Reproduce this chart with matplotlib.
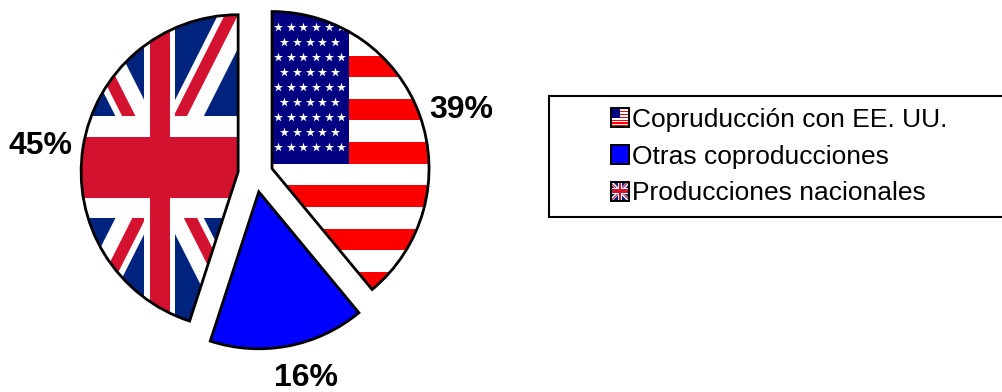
import matplotlib
matplotlib.use('Agg')
import matplotlib.pyplot as plt
from matplotlib.legend_handler import HandlerBase
from matplotlib.patches import Patch, Polygon, Rectangle
from matplotlib.transforms import Affine2D

etiquetas = ['Copruducción con EE. UU.', 'Otras coproducciones', 'Producciones nacionales']
valores = [39, 16, 45]

AZUL_EEUU = '#000080'
ROJO_EEUU = '#fb0000'
AZUL_UK = '#00247d'
ROJO_UK = '#d2122e'

plt.rcParams['font.family'] = ['Liberation Sans', 'DejaVu Sans']


def bandera_eeuu(tr):
    # cuadrado unidad, 13 franjas y el canton arriba a la izquierda
    partes = [Rectangle((0, 0), 1, 1, fc='white', ec='none', transform=tr)]
    for i in range(0, 13, 2):
        partes.append(Rectangle((0, 1 - (i + 1) / 13), 1, 1 / 13, fc=ROJO_EEUU, ec='none', transform=tr))
    partes.append(Rectangle((0, 6 / 13), 0.487, 7 / 13, fc=AZUL_EEUU, ec='none', transform=tr))
    return partes


def bandera_uk(tr):
    # coordenadas -1..1 pasadas al cuadrado unidad
    base = Affine2D().scale(0.5).translate(0.5, 0.5) + tr
    partes = [Rectangle((-1, -1), 2, 2, fc=AZUL_UK, ec='none', transform=base)]

    def poli(puntos, color):
        partes.append(Polygon(puntos, closed=True, fc=color, ec='none', transform=base))

    a = 0.235
    poli([(-1, -1 + a), (-1, -1 - a), (1, 1 - a), (1, 1 + a)], 'white')
    poli([(-1, 1 + a), (-1, 1 - a), (1, -1 - a), (1, -1 + a)], 'white')
    # rojo en molinete
    poli([(0, 0.15), (0, -0.02), (1.2, 1.18), (1.2, 1.35)], ROJO_UK)
    poli([(0, -0.15), (0, 0.02), (-1.2, -1.18), (-1.2, -1.35)], ROJO_UK)
    poli([(0, -0.15), (0, 0.02), (-1.2, 1.22), (-1.2, 1.05)], ROJO_UK)
    poli([(0, 0.15), (0, -0.02), (1.2, -1.22), (1.2, -1.05)], ROJO_UK)
    poli([(-0.2, -1), (0.2, -1), (0.2, 1), (-0.2, 1)], 'white')
    poli([(-1, -0.33), (1, -0.33), (1, 0.33), (-1, 0.33)], 'white')
    poli([(-0.127, -1), (0.127, -1), (0.127, 1), (-0.127, 1)], ROJO_UK)
    poli([(-1, -0.196), (1, -0.196), (1, 0.196), (-1, 0.196)], ROJO_UK)
    return partes


class HandlerBandera(HandlerBase):
    def __init__(self, tipo):
        super().__init__()
        self.tipo = tipo

    def create_artists(self, legend, orig_handle, xdescent, ydescent, width, height, fontsize, trans):
        lado = height
        x0 = width - xdescent - lado
        y0 = -ydescent
        tr = Affine2D().scale(lado).translate(x0, y0) + trans
        if self.tipo == 'eeuu':
            partes = bandera_eeuu(tr)
        elif self.tipo == 'uk':
            partes = bandera_uk(tr)
        else:
            partes = [Rectangle((0, 0), 1, 1, fc='#0000ff', ec='none', transform=tr)]
        marco = Rectangle((0, 0), 1, 1, transform=tr)
        for p in partes:
            p.set_clip_path(marco)
        partes.append(Rectangle((0, 0), 1, 1, fc='none', ec='black', lw=1.4, transform=tr))
        return partes


fig = plt.figure(figsize=(10.02, 3.92), dpi=100)
ax = fig.add_axes([(255.5 - 204.1) / 1002, 1 - (174.5 + 204.1) / 392, 408.2 / 1002, 408.2 / 392])

wedges, textos, pcts = ax.pie(valores, explode=[0.112] * 3, startangle=90, counterclock=False,
                              colors=['white', '#0000ff', 'white'], autopct='%.0f%%', pctdistance=1.26,
                              wedgeprops={'edgecolor': 'black', 'linewidth': 2.0, 'zorder': 5},
                              textprops={'fontsize': 23, 'fontweight': 'bold', 'color': 'black'})

# ajuste a mano de los porcentajes
ajustes = [(0.02, -0.057), (0.064, 0.051), (-0.013, -0.032)]
for t, (dx, dy) in zip(pcts, ajustes):
    x, y = t.get_position()
    t.set_position((x + dx, y + dy))

# bandera de EE. UU. recortada en su porcion
w = wedges[0]
cx, cy = w.center
r = w.r
tr = Affine2D().scale(r, 1.79 * r).translate(cx, cy + 0.995 * r - 1.79 * r) + ax.transData
for p in bandera_eeuu(tr):
    ax.add_patch(p)
    p.set_zorder(2)
    p.set_clip_path(w)
xs, ys = [], []
for fila in range(9):
    n = 6 if fila % 2 == 0 else 5
    for col in range(n):
        xs.append((0.038 if fila % 2 == 0 else 0.078) + col * 0.0805)
        ys.append(1 - (0.052 + fila * 0.0534))
estrellas = ax.scatter(xs, ys, marker='*', s=48, c='white', linewidths=0, transform=tr, zorder=3)
estrellas.set_clip_path(w)
w.set_facecolor('none')

# bandera del Reino Unido
w = wedges[2]
cx, cy = w.center
r = w.r
tr = Affine2D().scale(r, 1.98 * r).translate(cx - r, cy - 0.96 * r) + ax.transData
for p in bandera_uk(tr):
    ax.add_patch(p)
    p.set_zorder(2)
    p.set_clip_path(w)
w.set_facecolor('none')

ax.set_xlim(-1.3, 1.3)
ax.set_ylim(-1.3, 1.3)

h1, h2, h3 = Patch(), Patch(), Patch()
fig.legend([h1, h2, h3], etiquetas, loc='upper left',
           bbox_to_anchor=(549 / 1002, 1 - 216 / 392, 470 / 1002, 120 / 392),
           bbox_transform=fig.transFigure, mode='expand', borderaxespad=0, borderpad=0.44,
           fontsize=19, labelspacing=0.49, handlelength=2.6, handleheight=0.71, handletextpad=0.1,
           frameon=True, fancybox=False, framealpha=1, edgecolor='black',
           handler_map={h1: HandlerBandera('eeuu'), h2: HandlerBandera('azul'), h3: HandlerBandera('uk')}
           ).get_frame().set_linewidth(1.5)

fig.savefig('out.png', dpi=100)
